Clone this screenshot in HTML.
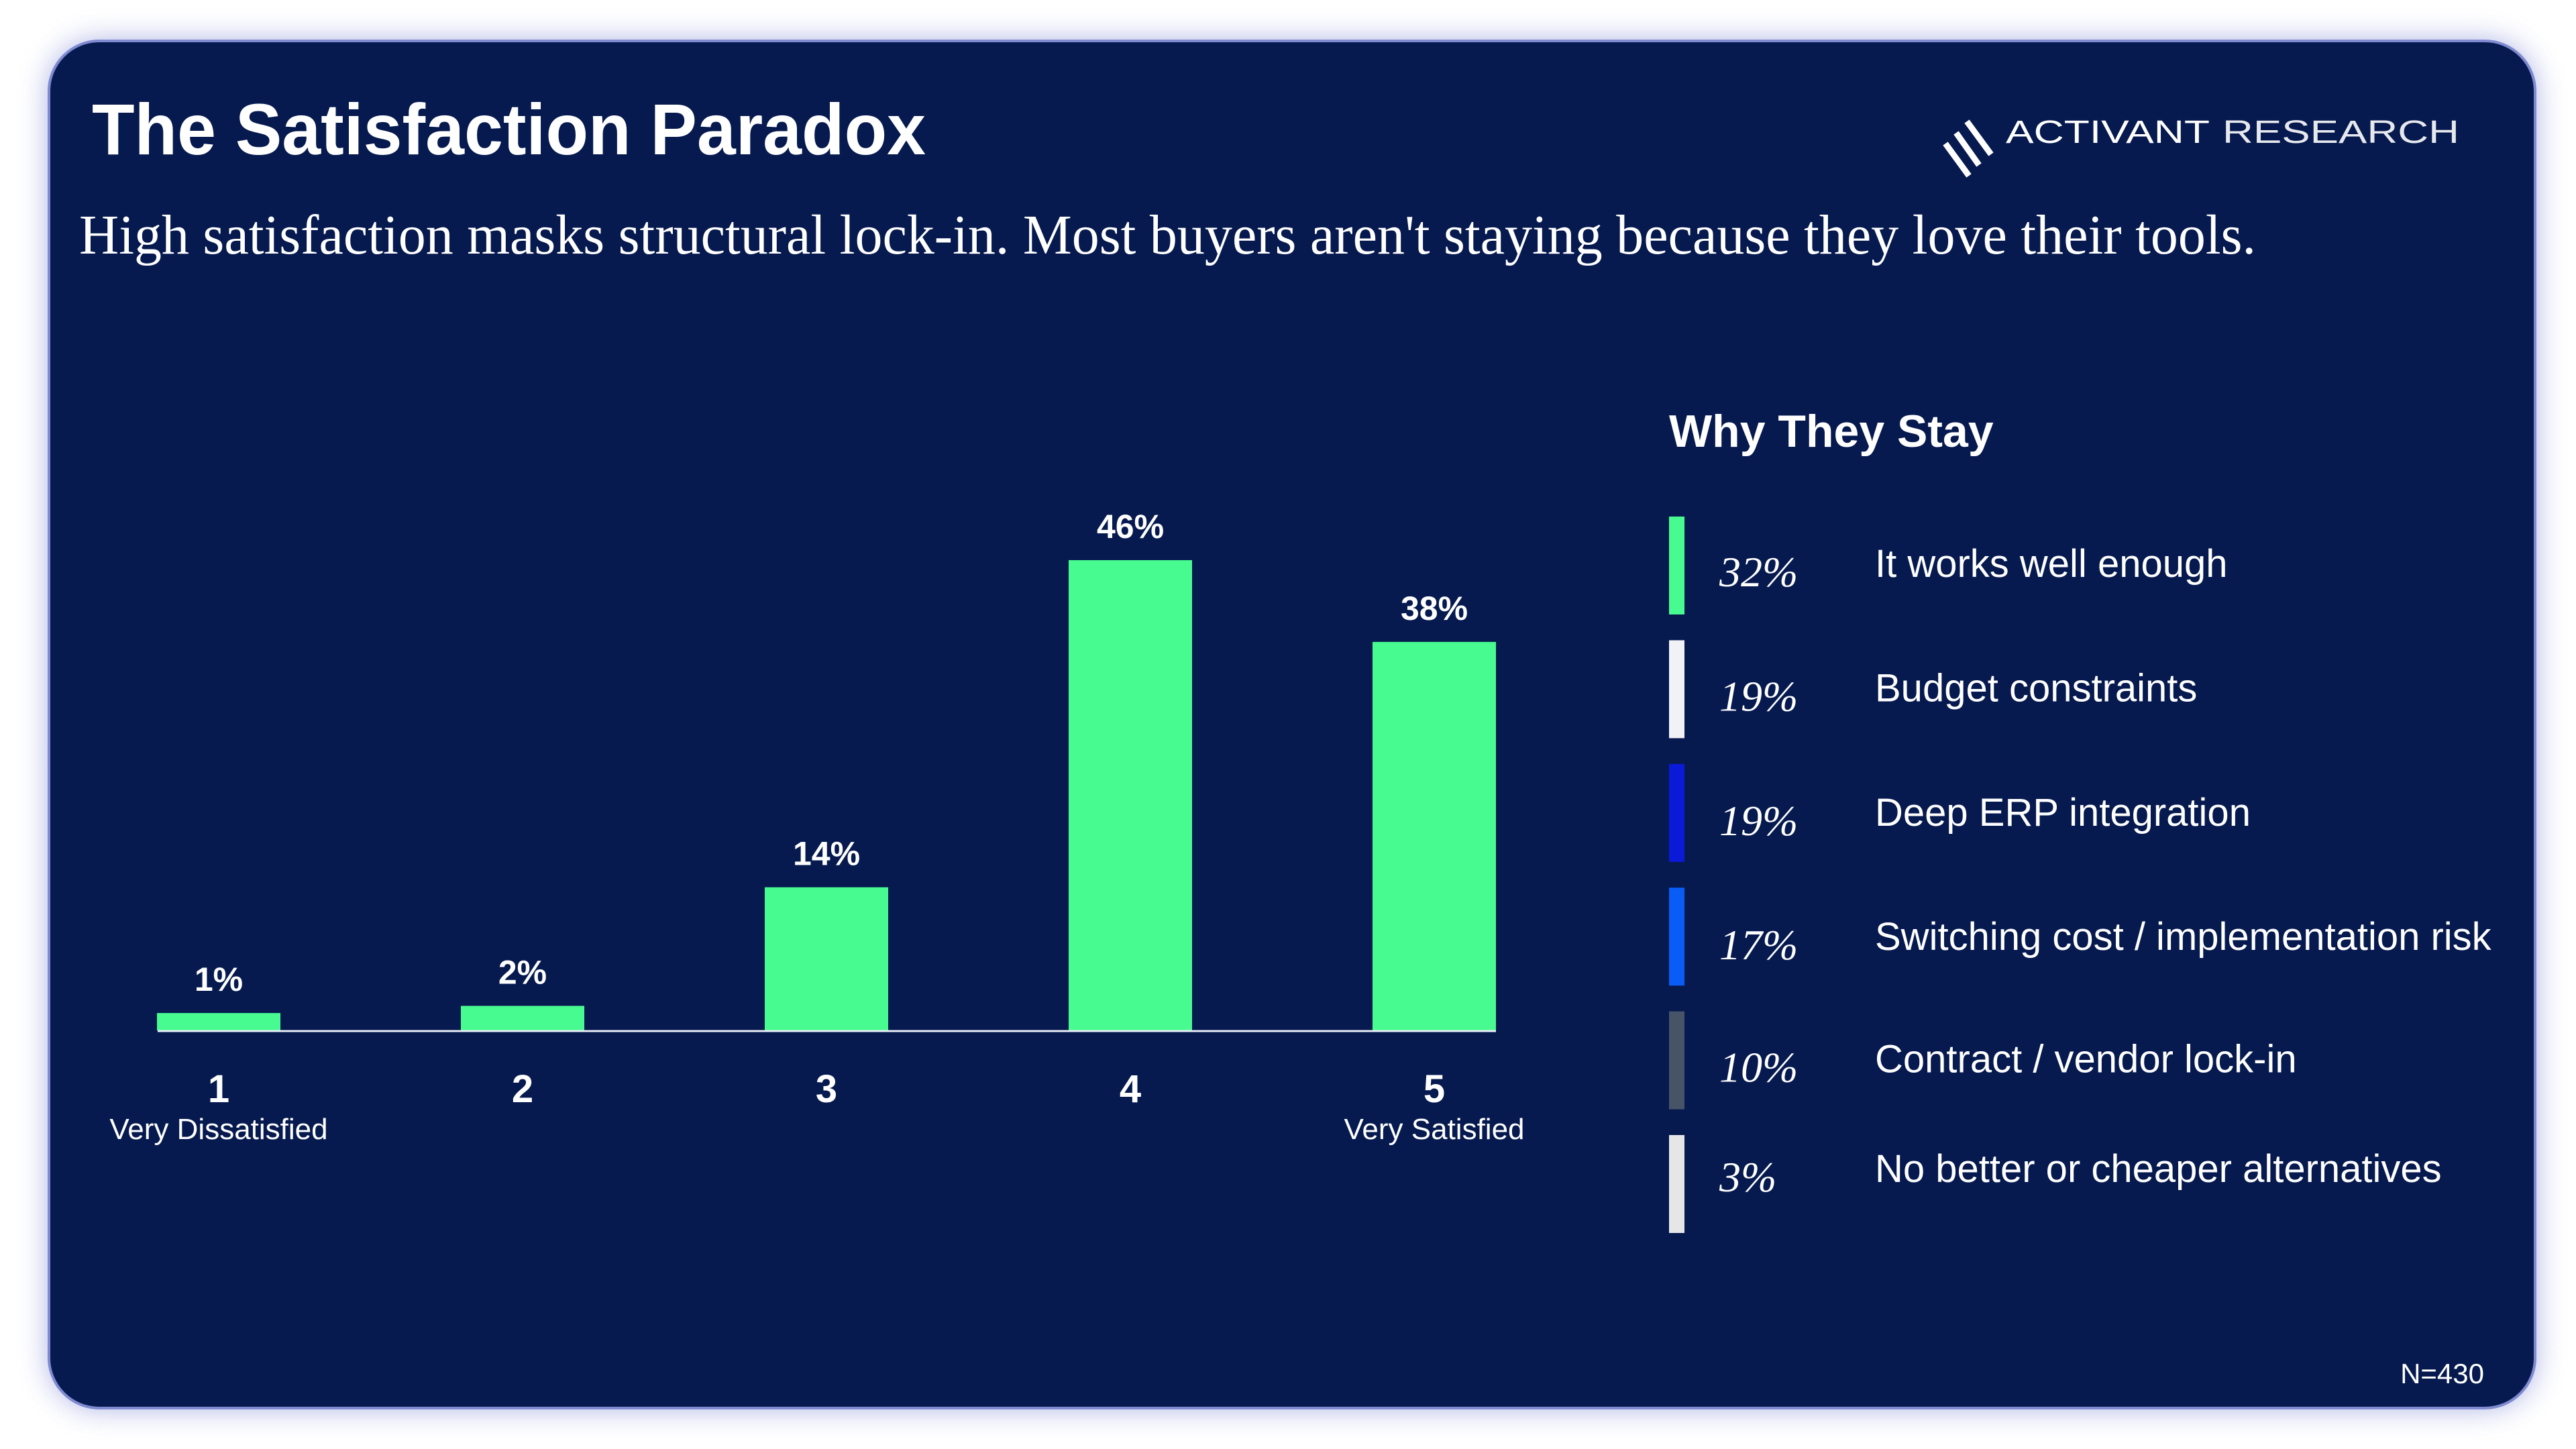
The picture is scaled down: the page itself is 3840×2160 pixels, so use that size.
<!DOCTYPE html>
<html><head><meta charset="utf-8"><style>
html,body{margin:0;padding:0;background:#fff;}
svg{display:block;}
.sans{font-family:"Liberation Sans",sans-serif;}
.serif{font-family:"Liberation Serif",serif;}
</style></head><body>
<svg id="chart" width="3840" height="2160" viewBox="0 0 3840 2160" xmlns="http://www.w3.org/2000/svg">
<defs>
<filter id="glow" x="-5%" y="-5%" width="110%" height="110%"><feGaussianBlur stdDeviation="22"/></filter>
</defs>
<rect x="73" y="61" width="3706" height="2038" rx="75" fill="#6f7cd0" opacity="0.6" filter="url(#glow)"/>
<rect x="73" y="61" width="3706" height="2038" rx="75" fill="#061a4f" stroke="#7f8ad0" stroke-width="4"/>
<text x="137" y="230" class="sans" font-weight="bold" font-size="108" fill="#fff" textLength="1243" lengthAdjust="spacingAndGlyphs">The Satisfaction Paradox</text>
<g>
<g stroke="#fff" stroke-width="9" stroke-linecap="butt">
<line x1="2932" y1="181" x2="2968" y2="230"/>
<line x1="2916" y1="198" x2="2950" y2="246"/>
<line x1="2900" y1="214" x2="2935" y2="262"/>
</g>
<text x="2990" y="213" class="sans" font-size="48" fill="#fff" textLength="304" lengthAdjust="spacingAndGlyphs">ACTIVANT</text>
<text x="3313" y="213" class="sans" font-size="48" fill="#fff" textLength="353" lengthAdjust="spacingAndGlyphs" opacity="0.9">RESEARCH</text>
</g>
<text x="118" y="378" class="serif" font-size="84" fill="#fff" textLength="3245" lengthAdjust="spacingAndGlyphs">High satisfaction masks structural lock-in. Most buyers aren't staying because they love their tools.</text>
<g id="bars"></g>
<line x1="235" y1="1537" x2="2230" y2="1537" stroke="#e8ecf5" stroke-width="3"/>
<text x="2488" y="666" class="sans" font-weight="bold" font-size="68" fill="#fff">Why They Stay</text>
<g id="legend"></g>
<text x="3703" y="2062" text-anchor="end" class="sans" font-size="42" fill="#fff">N=430</text>
</svg>
<script>
const categories = ["1","2","3","4","5"];
const subLabels = ["Very Dissatisfied","","","","Very Satisfied"];
const values = [1.7, 2.4, 14, 46, 38];
const valueLabels = ["1%","2%","14%","46%","38%"];

const reasons = ["It works well enough","Budget constraints","Deep ERP integration","Switching cost / implementation risk","Contract / vendor lock-in","No better or cheaper alternatives"];
const reasonValues = [32, 19, 19, 17, 10, 3];
const reasonColors = ["#48fb90","#f1f2f6","#0a1ad8","#0a5cf7","#475468","#e6e6e6"];

const NS = "http://www.w3.org/2000/svg";
function mk(tag, attrs, parent, text){
  const e = document.createElementNS(NS, tag);
  for (const k in attrs) e.setAttribute(k, attrs[k]);
  if (text !== undefined) e.textContent = text;
  parent.appendChild(e);
  return e;
}
const baseY = 1536, pxPerPct = 15.24, x0 = 326, step = 453, barW = 184;
function xScale(i){ return x0 + i*step; }
function yScale(v){ return baseY - v*pxPerPct; }

const gb = document.getElementById("bars");
categories.forEach((c,i)=>{
  const cx = xScale(i), top = yScale(values[i]);
  const r = mk("rect",{x:cx-barW/2,y:top,width:barW,height:baseY-top,fill:"#48fb90"},gb);
  
  
  const vl = mk("text",{x:cx,y:top-33,"text-anchor":"middle","class":"sans","font-weight":"bold","font-size":"50",fill:"#fff"},gb,valueLabels[i]);
  
  
  const cl = mk("text",{x:cx,y:1643,"text-anchor":"middle","class":"sans","font-weight":"bold","font-size":"58",fill:"#fff"},gb,c);
  
  
  if (subLabels[i]) {
    const sl = mk("text",{x:cx,y:1698,"text-anchor":"middle","class":"sans","font-size":"44",fill:"#fff"},gb,subLabels[i]);
    
    
  }
});

const gl = document.getElementById("legend");
const rowTop = 770, rowPitch = 184.4;
const labelOffsets = [90, 91, 92, 93, 91, 70];
reasons.forEach((r,i)=>{
  const t = rowTop + i*rowPitch;
  const b = mk("rect",{x:2488,y:t,width:23,height:146,fill:reasonColors[i]},gl);
  
  
  const p = mk("text",{x:2563,y:t+labelOffsets[i]+14,"class":"serif","font-style":"italic","font-size":"64",fill:"#fff"},gl,reasonValues[i]+"%");
  
  
  const l = mk("text",{x:2795,y:t+labelOffsets[i],"class":"sans","font-size":"58",fill:"#fff"},gl,r);
  
  
});
</script>
</body></html>
